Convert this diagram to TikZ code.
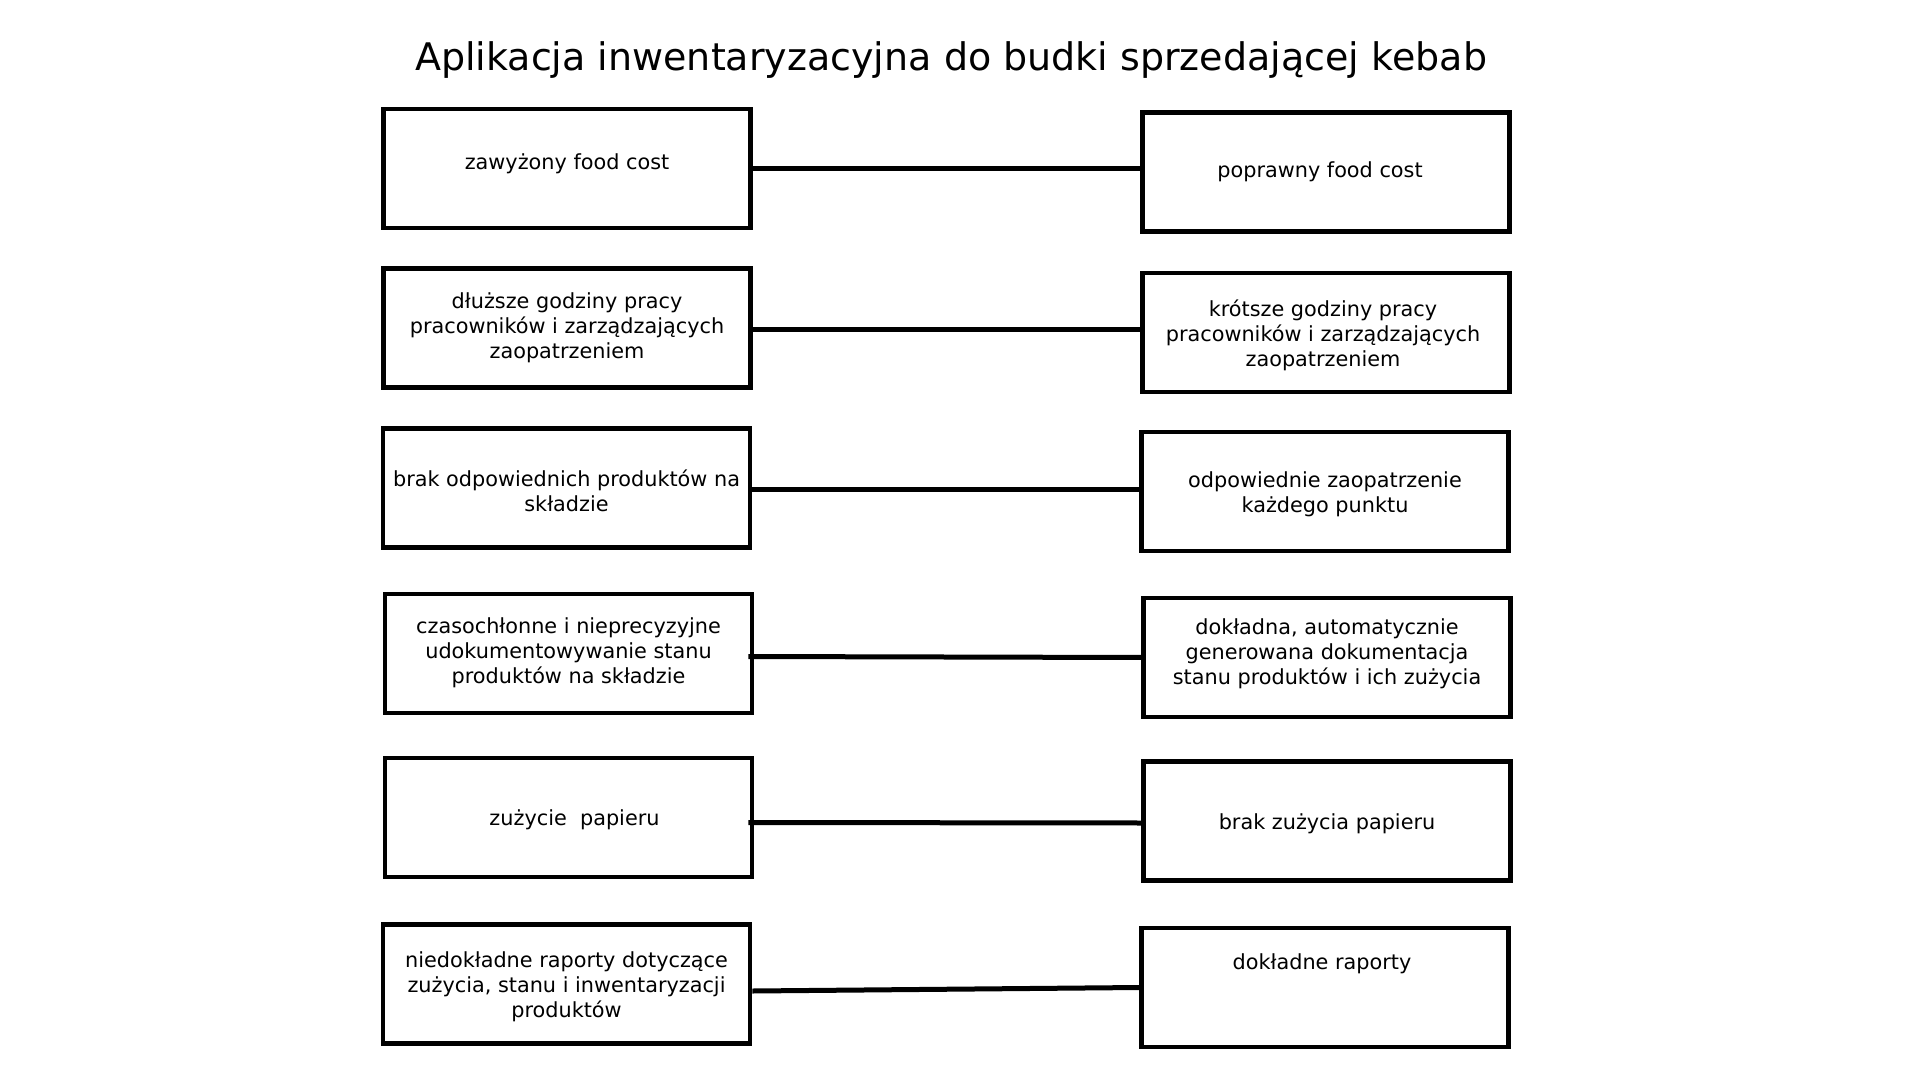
\documentclass[tikz,border=0pt]{standalone}
\usepackage{fontspec}
\setmainfont{DejaVu Sans}
\usepackage{tikz}
\usetikzlibrary{positioning}

\begin{document}
\begin{tikzpicture}[x=0.5pt,y=-0.5pt]
\tikzstyle{box}=[draw=black, line width=2.4pt, minimum width=183.5pt, minimum height=59.5pt, inner sep=0pt]
\tikzstyle{txt}=[align=center, inner sep=0pt, yshift=-1.2pt, font=\fontsize{10.4}{12.5}\selectfont]
\tikzstyle{link}=[draw=black, line width=2.5pt]
\useasboundingbox (0,0) rectangle (1920,1080);
\node[font=\fontsize{19}{22}\selectfont] (title) at (951,60) {Aplikacja inwentaryzacyjna do budki sprzedającej kebab};
% left column
\node[box] (l1) at (567,168.5) {};
\node[txt] (tl1) at ([yshift=3.5pt]l1.center) {zawyżony food cost};
\node[box] (l2) at (567,328) {};
\node[txt] (tl2) at ([yshift=1.5pt]l2.center) {dłuższe godziny pracy\\pracowników i zarządzających\\zaopatrzeniem};
\node[box] (l3) at (566.5,488) {};
\node[txt] (tl3) at (l3.center) {brak odpowiednich produktów na\\składzie};
\node[box] (l4) at (568.5,653.5) {};
\node[txt] (tl4) at ([yshift=1.5pt]l4.center) {czasochłonne i nieprecyzyjne\\udokumentowywanie stanu\\produktów na składzie};
\node[box] (l5) at (568.5,817.5) {};
\node[txt] (tl5) at ([xshift=3pt]l5.center) {zużycie\ \ papieru};
\node[box] (l6) at (566.5,984) {};
\node[txt] (tl6) at (l6.center) {niedokładne raporty dotyczące\\zużycia, stanu i inwentaryzacji\\produktów};
% right column
\node[box] (r1) at (1326,172) {};
\node[txt] (tr1) at ([xshift=-3pt,yshift=1.5pt]r1.center) {poprawny food cost};
\node[box] (r2) at (1326,332.5) {};
\node[txt] (tr2) at ([xshift=-1.5pt]r2.center) {krótsze godziny pracy\\pracowników i zarządzających\\zaopatrzeniem};
\node[box] (r3) at (1325,491.5) {};
\node[txt] (tr3) at (r3.center) {odpowiednie zaopatrzenie\\każdego punktu};
\node[box] (r4) at (1327,657.5) {};
\node[txt] (tr4) at ([yshift=3pt]r4.center) {dokładna, automatycznie\\generowana dokumentacja\\stanu produktów i ich zużycia};
\node[box] (r5) at (1327,821) {};
\node[txt] (tr5) at (r5.center) {brak zużycia papieru};
\node[box] (r6) at (1325,987.5) {};
\node[txt] (tr6) at ([xshift=-1.5pt,yshift=13pt]r6.center) {dokładne raporty};
% connectors
\draw[link] (l1.east) -- (l1.east -| r1.west);
\draw[link] ([yshift=-1pt]l2.east) -- ([yshift=-1pt]l2.east -| r2.west);
\draw[link] ([yshift=-0.5pt]l3.east) -- ([yshift=-0.5pt]l3.east -| r3.west);
\draw[link] ([xshift=-3pt,yshift=-1.5pt]l4.east) -- ([xshift=1pt]r4.west);
\draw[link] ([xshift=-3pt,yshift=-2.5pt]l5.east) -- ([xshift=1pt,yshift=-1pt]r5.west);
\draw[link] ([yshift=-3.5pt]l6.east) -- ([yshift=0pt]r6.west);
\end{tikzpicture}
\end{document}
